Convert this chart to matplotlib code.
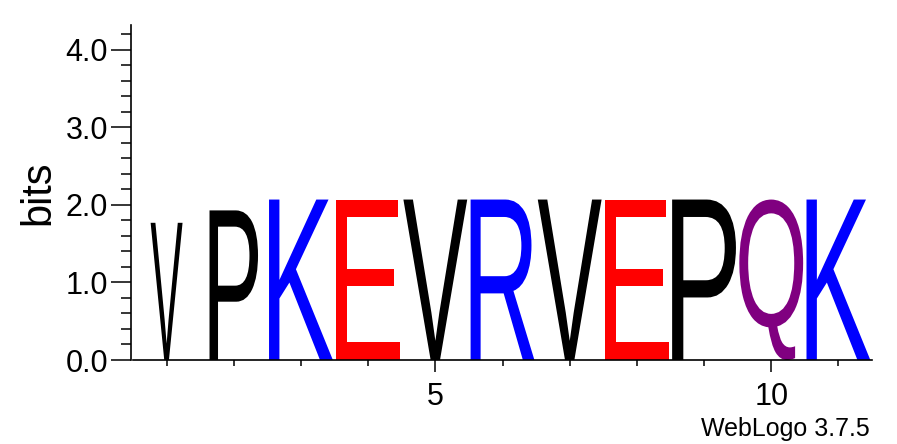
import numpy as np
import matplotlib
matplotlib.use('Agg')
import matplotlib.pyplot as plt
from matplotlib.textpath import TextPath
from matplotlib.patches import PathPatch
from matplotlib.font_manager import FontProperties
from matplotlib.transforms import Affine2D
from matplotlib.ticker import MultipleLocator, FixedLocator

plt.rcParams['font.family'] = ['Liberation Sans', 'DejaVu Sans']

# sequence logo data
letters = ['V', 'P', 'K', 'E', 'V', 'R', 'V', 'E', 'P', 'Q', 'K']
bits = [1.77, 1.93, 2.07, 2.07, 2.07, 2.07, 2.07, 2.07, 2.07, 2.07, 2.07]
coverage = [0.50, 0.76, 1.0, 1.0, 1.0, 1.0, 1.0, 1.0, 1.0, 1.0, 1.0]
positions = list(range(1, len(letters) + 1))

colors = {'V': 'black', 'P': 'black', 'K': '#0000ff', 'R': '#0000ff',
          'E': '#ff0000', 'Q': '#800080'}

fig = plt.figure(figsize=(8.97, 4.44), dpi=100)
ax = fig.add_axes([133/897, 1 - 360/444, (872 - 133)/897, (360 - 25)/444])

fp = FontProperties(family='Liberation Sans')
stack_w = 0.95
for pos, ch, h, cov in zip(positions, letters, bits, coverage):
    tp = TextPath((0, 0), ch, size=1, prop=fp)
    ext = tp.get_extents()
    w = stack_w * cov
    tr = (Affine2D()
          .translate(-ext.x0, -ext.y0)
          .scale(w / ext.width, h / ext.height)
          .translate(pos - w / 2, 0))
    path = tr.transform_path(tp)
    ax.add_patch(PathPatch(path, facecolor=colors[ch], edgecolor='none', lw=0))

ax.set_xlim(0.5, 11.5)
ax.set_ylim(0, np.log2(20))

for s in ['top', 'right']:
    ax.spines[s].set_visible(False)
ax.spines['left'].set_position(('outward', 1.5))
ax.spines['left'].set_linewidth(1.2)
ax.spines['bottom'].set_linewidth(1.2)

ax.yaxis.set_major_locator(MultipleLocator(1.0))
ax.yaxis.set_minor_locator(MultipleLocator(0.2))
ax.yaxis.set_major_formatter(plt.FormatStrFormatter('%.1f'))
ax.tick_params(axis='y', which='major', length=14.4, width=1.1, pad=2, labelsize=22)
ax.tick_params(axis='y', which='minor', length=7.5, width=1.1)

ax.xaxis.set_major_locator(MultipleLocator(5))
ax.xaxis.set_minor_locator(FixedLocator(positions))
ax.tick_params(axis='x', which='major', length=8.5, width=1.1, pad=7, labelsize=22)
ax.tick_params(axis='x', which='minor', length=4, width=1.1)

fig.text(58/897, 1 - 192.5/444, 'bits', rotation=90, ha='right', va='center', fontsize=30)
fig.text(870/897, 1 - 436/444, 'WebLogo 3.7.5', ha='right', va='baseline', fontsize=18)

fig.savefig('out.png', dpi=100)
